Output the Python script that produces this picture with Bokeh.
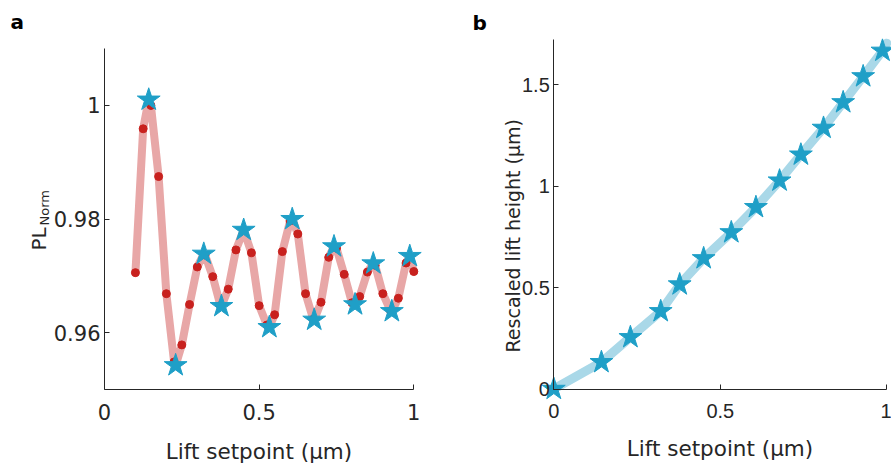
from bokeh.plotting import figure
from bokeh.layouts import row
from bokeh.models import Range1d, FixedTicker, Label
from bokeh.embed import file_html
from bokeh.resources import INLINE
import math

# ---------------- data: panel a ----------------
dot_x = [0.100, 0.125, 0.150, 0.175, 0.200, 0.225, 0.250, 0.275, 0.300, 0.325,
         0.350, 0.375, 0.400, 0.425, 0.450, 0.475, 0.500, 0.525, 0.550, 0.575,
         0.600, 0.625, 0.650, 0.675, 0.700, 0.725, 0.750, 0.775, 0.800, 0.825,
         0.850, 0.875, 0.900, 0.925, 0.950, 0.975, 1.000]
dot_y = [0.9706, 0.9959, 1.0000, 0.9875, 0.9669, 0.9549, 0.9579, 0.9650, 0.9716, 0.9737,
         0.9699, 0.9648, 0.9677, 0.9746, 0.9781, 0.9741, 0.9648, 0.9614, 0.9632, 0.9743,
         0.9797, 0.9774, 0.9669, 0.9624, 0.9654, 0.9733, 0.9749, 0.9703, 0.9653, 0.9664,
         0.9707, 0.9719, 0.9669, 0.9639, 0.9661, 0.9723, 0.9708]

star_x = [0.143, 0.230, 0.321, 0.378, 0.450, 0.533, 0.607, 0.678, 0.742, 0.810,
          0.869, 0.929, 0.987]
star_y = [1.0010, 0.9543, 0.9739, 0.9647, 0.9781, 0.9610, 0.9800, 0.9623, 0.9752, 0.9650,
          0.9722, 0.9638, 0.9735]

a_xticks = [0, 0.5, 1]
a_xtick_labels = ["0", "0.5", "1"]
a_yticks = [0.96, 0.98, 1.0]
a_ytick_labels = ["0.96", "0.98", "1"]
a_xlim = (0, 1)
a_ylim = (0.95, 1.01)

# ---------------- data: panel b ----------------
b_x = [0.0, 0.143, 0.230, 0.321, 0.378, 0.450, 0.533, 0.607, 0.678, 0.742,
       0.810, 0.869, 0.929, 0.987]
b_y = [0.0, 0.132, 0.255, 0.383, 0.515, 0.644, 0.772, 0.896, 1.027, 1.155,
       1.287, 1.413, 1.541, 1.667]
b_end_x = [1.0]
b_end_y = [1.705]

b_xticks = [0, 0.5, 1]
b_xtick_labels = ["0", "0.5", "1"]
b_yticks = [0, 0.5, 1, 1.5]
b_ytick_labels = ["0", "0.5", "1", "1.5"]
b_xlim = (0, 1)
b_ylim = (0, 1.725)

AX = "#262626"
PINK = "#E8A7A7"
RED = "#C8211E"
STAR = "#1F9FC7"
LBLUE = "#A9D8E8"

H = 470
W1, W2 = 470, 421
# axes boxes (pixels inside each figure): left, right, top, bottom
A_BOX = (104, 413.3, 48.1, 389.3)
B_BOX = (83.3, 416.3, 38.6, 388.5)


def ranges(box, xlim, ylim, w, h):
    l, r, t, b = box
    sx = (r - l) / (xlim[1] - xlim[0])
    sy = (b - t) / (ylim[1] - ylim[0])
    x0 = xlim[0] - l / sx
    x1 = xlim[0] + (w - l) / sx
    y0 = ylim[0] - (h - b) / sy
    y1 = ylim[0] + b / sy
    return Range1d(x0, x1), Range1d(y0, y1)


def style_axis(ax, font, size):
    ax.axis_line_color = AX
    ax.axis_line_width = 1
    ax.major_tick_line_color = AX
    ax.major_tick_in = 5
    ax.major_tick_out = 0
    ax.minor_tick_line_color = None
    ax.major_label_text_font = font
    ax.major_label_text_font_size = size
    ax.major_label_text_color = AX
    ax.axis_label_text_color = AX
    ax.axis_label_text_font_style = "normal"


def base_fig(w, xr, yr):
    p = figure(width=w, height=H, x_range=xr, y_range=yr, title=None,
               output_backend="svg", toolbar_location=None,
               min_border_left=0, min_border_right=0, min_border_top=0, min_border_bottom=0)
    p.grid.visible = False
    p.outline_line_color = None
    p.background_fill_color = "white"
    p.border_fill_color = "white"
    return p


# ---------------- panel a ----------------
xr1, yr1 = ranges(A_BOX, a_xlim, a_ylim, W1, H)
p1 = base_fig(W1, xr1, yr1)
style_axis(p1.xaxis[0], "DejaVu Sans", "21px")
style_axis(p1.yaxis[0], "DejaVu Sans", "21px")
p1.xaxis.fixed_location = a_ylim[0]
p1.yaxis.fixed_location = a_xlim[0]
p1.xaxis.bounds = a_xlim
p1.yaxis.bounds = a_ylim
p1.xaxis.ticker = FixedTicker(ticks=a_xticks)
p1.xaxis.major_label_overrides = dict(zip(a_xticks, a_xtick_labels))
p1.yaxis.ticker = FixedTicker(ticks=a_yticks)
p1.yaxis.major_label_overrides = dict(zip(a_yticks, a_ytick_labels))
p1.xaxis.major_label_standoff = 14
p1.yaxis.major_label_standoff = 4
p1.xaxis.axis_label = "Lift setpoint (µm)"
p1.xaxis.axis_label_text_font = "DejaVu Sans"
p1.xaxis.axis_label_text_font_size = "21.5px"
p1.xaxis.axis_label_standoff = 16

pts = sorted(zip(dot_x + star_x, dot_y + star_y))
p1.line([q[0] for q in pts], [q[1] for q in pts], line_width=8, color=PINK,
        line_cap="round", line_join="round")
p1.scatter(dot_x, dot_y, size=8, color=RED)
p1.scatter(star_x, star_y, marker="star", size=24, color=STAR)

p1.add_layout(Label(x=-0.2102, y=0.9745, text="PL", angle=math.pi / 2,
                    text_font="DejaVu Sans", text_font_size="20px", text_color=AX,
                    text_baseline="alphabetic", text_align="left"))
p1.add_layout(Label(x=-0.1940, y=0.9789, text="Norm", angle=math.pi / 2,
                    text_font="DejaVu Sans", text_font_size="13px", text_color=AX,
                    text_baseline="alphabetic", text_align="left"))
p1.add_layout(Label(x=-0.304, y=1.0146, text="a", text_font="DejaVu Sans",
                    text_font_style="bold", text_font_size="20px", text_color="black",
                    text_baseline="alphabetic", text_align="left"))

# ---------------- panel b ----------------
xr2, yr2 = ranges(B_BOX, b_xlim, b_ylim, W2, H)
p2 = base_fig(W2, xr2, yr2)
style_axis(p2.xaxis[0], "Liberation Sans", "20px")
style_axis(p2.yaxis[0], "Liberation Sans", "20px")
p2.xaxis.fixed_location = b_ylim[0]
p2.yaxis.fixed_location = b_xlim[0]
p2.xaxis.bounds = b_xlim
p2.yaxis.bounds = b_ylim
p2.xaxis.ticker = FixedTicker(ticks=b_xticks)
p2.xaxis.major_label_overrides = dict(zip(b_xticks, b_xtick_labels))
p2.yaxis.ticker = FixedTicker(ticks=b_yticks)
p2.yaxis.major_label_overrides = dict(zip(b_yticks, b_ytick_labels))
p2.xaxis.major_label_standoff = 15
p2.yaxis.major_label_standoff = 4
p2.xaxis.axis_label = "Lift setpoint (µm)"
p2.xaxis.axis_label_text_font = "DejaVu Sans"
p2.xaxis.axis_label_text_font_size = "21.5px"
p2.xaxis.axis_label_standoff = 14

p2.line(b_x + b_end_x, b_y + b_end_y, line_width=9, color=LBLUE,
        line_cap="round", line_join="round")
p2.scatter(b_x, b_y, marker="star", size=24, color=STAR)

p2.add_layout(Label(x=-0.1225, y=0.18, text="Rescaled lift height (µm)", angle=math.pi / 2,
                    text_font="DejaVu Sans", text_font_size="19px", text_color=AX,
                    text_baseline="alphabetic", text_align="left"))
p2.add_layout(Label(x=-0.244, y=1.805, text="b", text_font="DejaVu Sans",
                    text_font_style="bold", text_font_size="20px", text_color="black",
                    text_baseline="alphabetic", text_align="left"))

layout = row(p1, p2)
open("out.html", "w").write(file_html(layout, INLINE))
